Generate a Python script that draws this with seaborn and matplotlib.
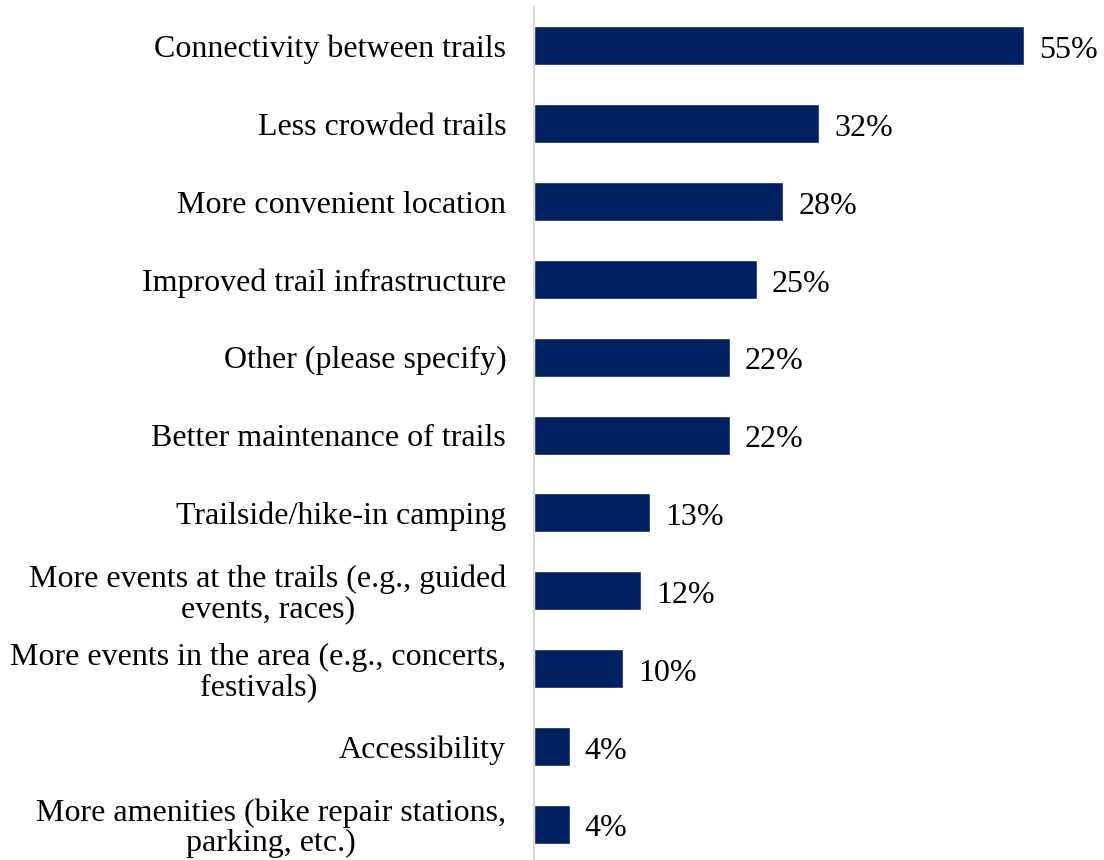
import matplotlib
matplotlib.use("Agg")
import matplotlib.pyplot as plt
import seaborn as sns
import pandas as pd

categories = [
    "Connectivity between trails",
    "Less crowded trails",
    "More convenient location",
    "Improved trail infrastructure",
    "Other (please specify)",
    "Better maintenance of trails",
    "Trailside/hike-in camping",
    "More events at the trails (e.g., guided\nevents, races)",
    "More events in the area (e.g., concerts,\nfestivals)",
    "Accessibility",
    "More amenities (bike repair stations,\nparking, etc.)",
]
percentages = [55, 32, 28, 25, 22, 22, 13, 12, 10, 4, 4]

df = pd.DataFrame({"category": categories, "pct": percentages})

sns.set_theme(style="white")
plt.rcParams["font.family"] = ["Liberation Serif", "DejaVu Serif"]

W, H = 1104, 860
fig = plt.figure(figsize=(W / 100, H / 100), dpi=100)
ax = fig.add_axes([534 / W, 0.0, (W - 534) / W, (H - 7) / H])

navy = "#002060"
sns.barplot(data=df, x="pct", y="category", orient="h", color=navy,
            saturation=1, width=0.5, ax=ax)

ax.set_xlim(0, 64)
ax.set_ylim(10.46, -0.5)
ax.set_xlabel("")
ax.set_ylabel("")
ax.set_xticks([])

for s in ["top", "right", "bottom"]:
    ax.spines[s].set_visible(False)
ax.spines["left"].set_color("#D9D9D9")
ax.spines["left"].set_linewidth(1.5)

ax.tick_params(axis="y", length=0, pad=20, labelsize=23, labelcolor="black")
for lab in ax.get_yticklabels():
    lab.set_multialignment("center")
    lab.set_linespacing(1.05)

for i, v in enumerate(percentages):
    ax.text(v + 1.7, i + 0.06, f"{v}%", va="center", ha="left",
            fontsize=23, color="black")

fig.savefig("out.png", dpi=100, facecolor="white")
